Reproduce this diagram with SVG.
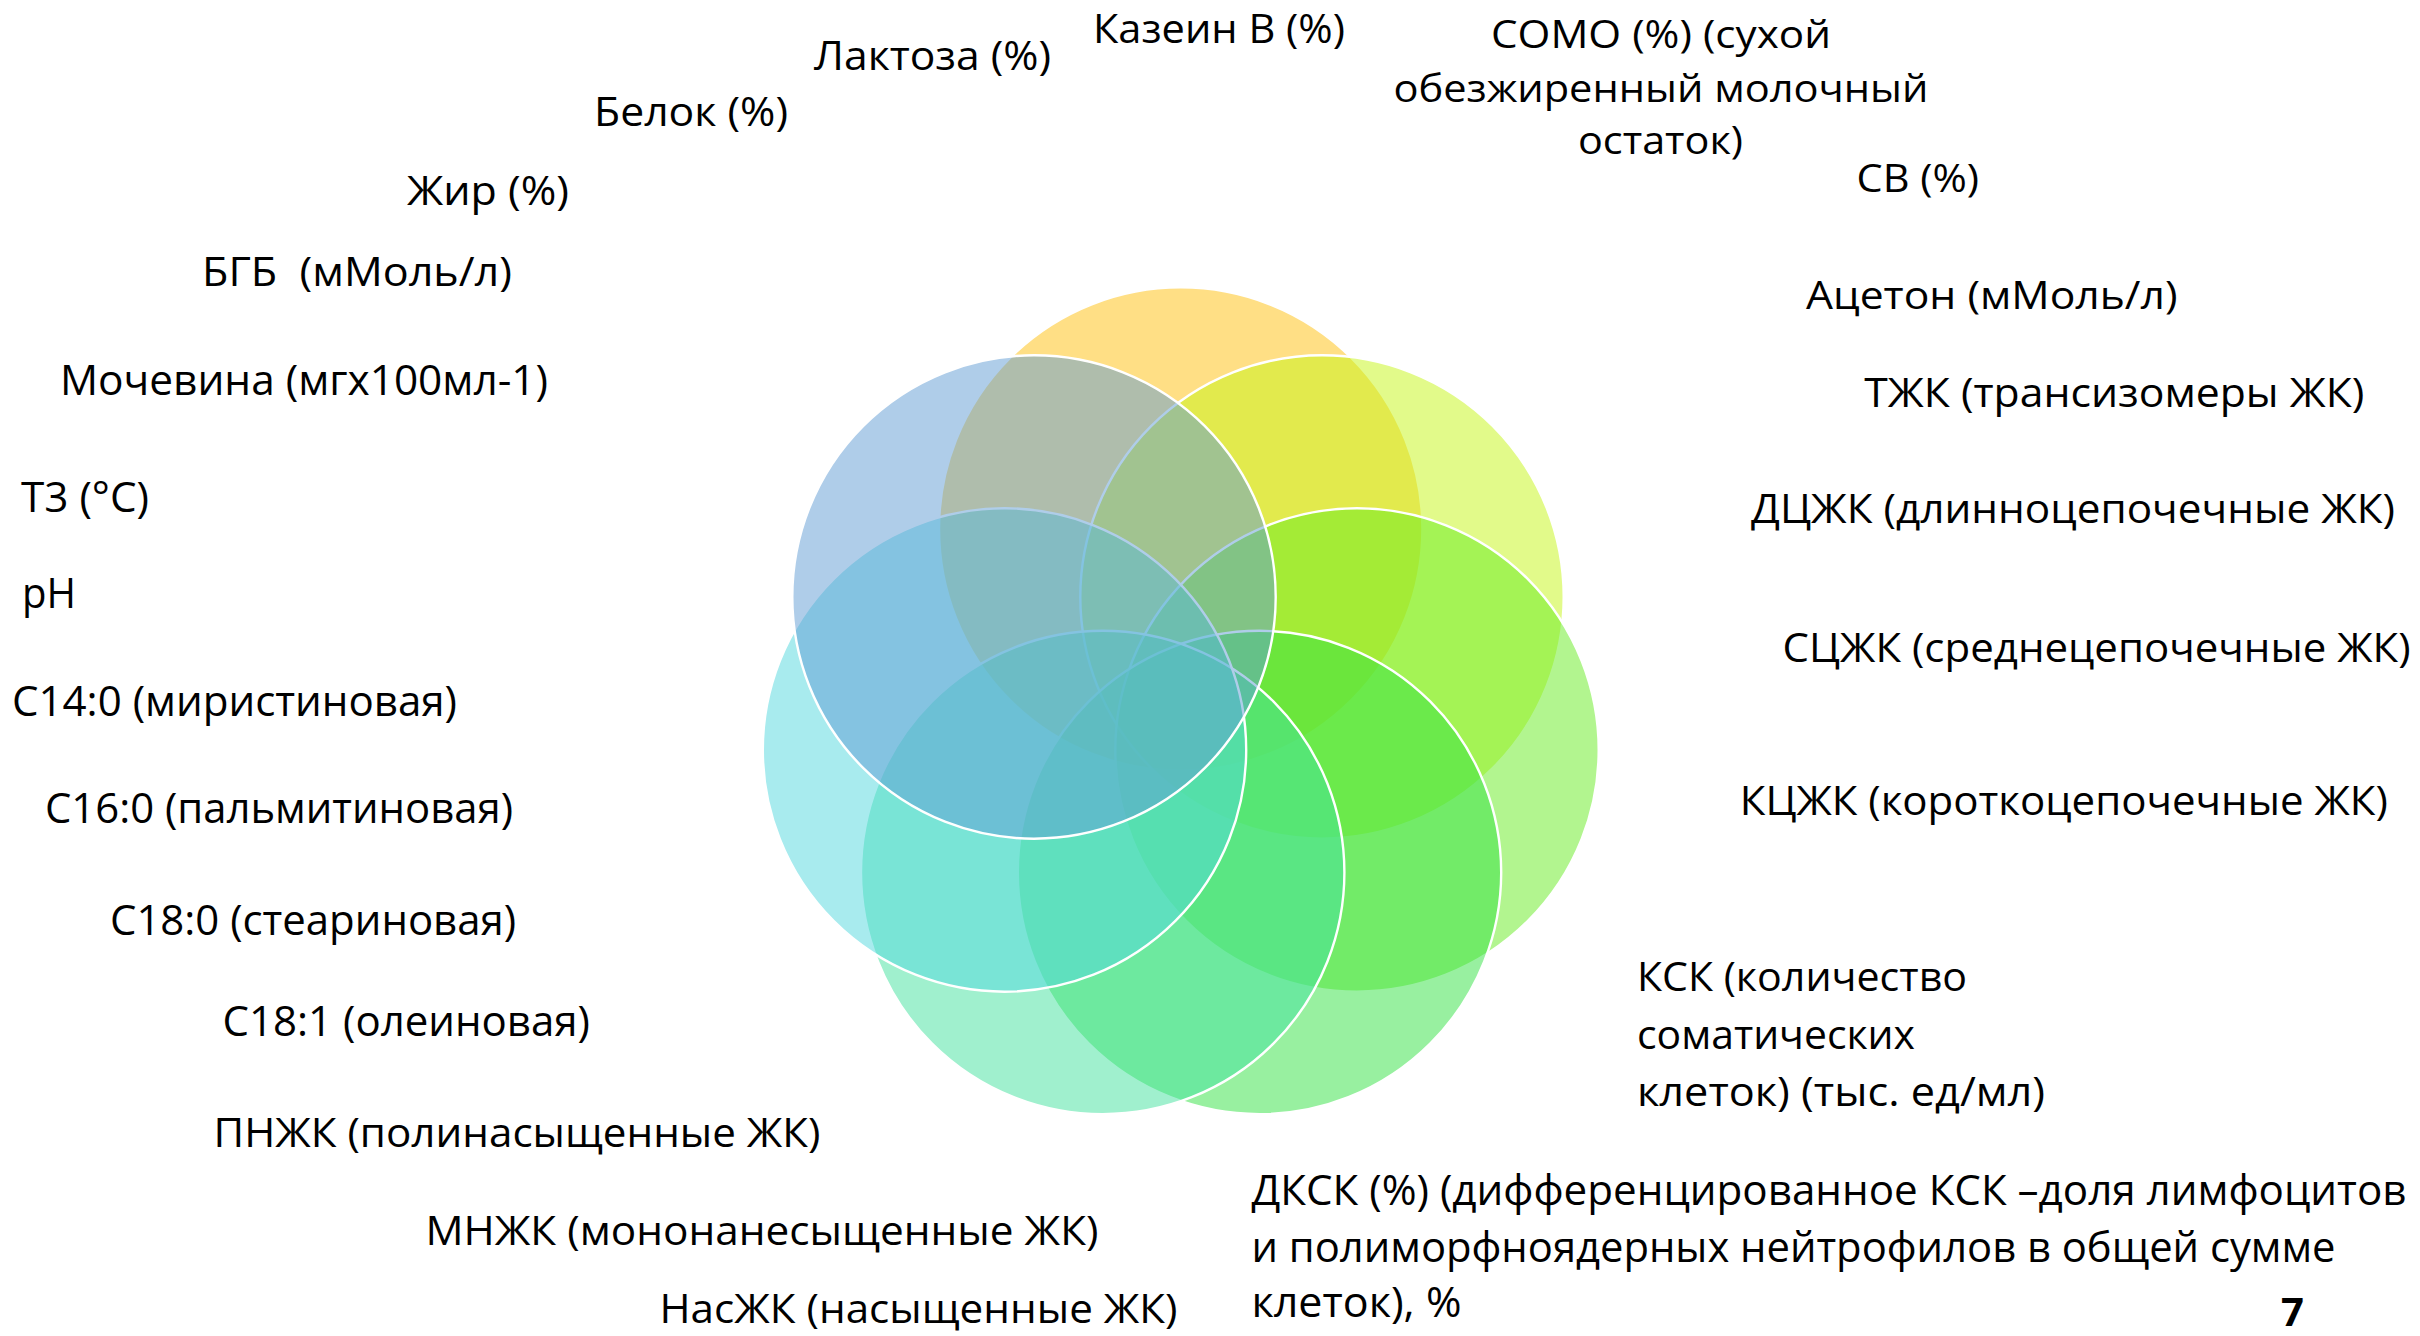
<svg xmlns="http://www.w3.org/2000/svg" width="2420" height="1336" viewBox="0 0 2420 1336">
<style>
.c{stroke:#FFFFFF;stroke-width:2.4;}
text{font-family:"Open Sans","Noto Sans","DejaVu Sans",sans-serif;fill:#000000;}
.t{font-size:41px;}
.l{font-size:42px;}
.s{font-size:38.5px;}
.b{font-size:40px;font-weight:bold;}
</style>
<rect x="0" y="0" width="2420" height="1336" fill="#FFFFFF"/>
<g id="venn">
<g id="circle-1"><circle class="c" cx="1180.7" cy="529" r="241.7" fill="rgb(255,191,11)" fill-opacity="0.5"/></g>
<g id="circle-2"><circle class="c" cx="1322" cy="597" r="241.7" fill="rgb(197,245,21)" fill-opacity="0.5"/></g>
<g id="circle-3"><circle class="c" cx="1357" cy="750" r="241.7" fill="rgb(101,235,31)" fill-opacity="0.5"/></g>
<g id="circle-4"><circle class="c" cx="1259.5" cy="872.5" r="241.7" fill="rgb(49,225,65)" fill-opacity="0.5"/></g>
<g id="circle-5"><circle class="c" cx="1102.7" cy="872.5" r="241.7" fill="rgb(65,225,157)" fill-opacity="0.5"/></g>
<g id="circle-6"><circle class="c" cx="1004.5" cy="750" r="241.7" fill="rgb(81,215,221)" fill-opacity="0.5"/></g>
<g id="circle-7"><circle class="c" cx="1034" cy="597" r="241.7" fill="rgb(95,155,211)" fill-opacity="0.5"/></g>
</g>
<g id="connectors"></g>
<g id="label-kazein"><text class="t" x="1093" y="43" textLength="252" lengthAdjust="spacingAndGlyphs">Казеин В (%)</text></g>
<g id="label-laktoza"><text class="t" x="814" y="70" textLength="237" lengthAdjust="spacingAndGlyphs">Лактоза (%)</text></g>
<g id="label-belok"><text class="t" x="594" y="125.5" textLength="194" lengthAdjust="spacingAndGlyphs">Белок (%)</text></g>
<g id="label-zhir"><text class="t" x="407" y="205" textLength="162" lengthAdjust="spacingAndGlyphs">Жир (%)</text></g>
<g id="label-bgb"><text class="t" x="202" y="285.5" textLength="310" lengthAdjust="spacingAndGlyphs" xml:space="preserve">БГБ  (мМоль/л)</text></g>
<g id="label-mochevina"><text class="l" x="60" y="395" textLength="488" lengthAdjust="spacingAndGlyphs">Мочевина (мгх100мл-1)</text></g>
<g id="label-t3"><text class="l" x="21" y="512" textLength="128" lengthAdjust="spacingAndGlyphs">Т3 (°C)</text></g>
<g id="label-ph"><text class="l" x="22" y="607.5" textLength="54" lengthAdjust="spacingAndGlyphs">pH</text></g>
<g id="label-c14"><text class="l" x="12" y="716" textLength="445" lengthAdjust="spacingAndGlyphs">С14:0 (миристиновая)</text></g>
<g id="label-c16"><text class="l" x="45" y="822.5" textLength="468" lengthAdjust="spacingAndGlyphs">С16:0 (пальмитиновая)</text></g>
<g id="label-c180"><text class="l" x="110" y="935" textLength="406" lengthAdjust="spacingAndGlyphs">С18:0 (стеариновая)</text></g>
<g id="label-c181"><text class="l" x="222.5" y="1035.5" textLength="367.5" lengthAdjust="spacingAndGlyphs">С18:1 (олеиновая)</text></g>
<g id="label-pnzhk"><text class="t" x="213.5" y="1146.5" textLength="607" lengthAdjust="spacingAndGlyphs">ПНЖК (полинасыщенные ЖК)</text></g>
<g id="label-mnzhk"><text class="t" x="425.5" y="1245" textLength="673" lengthAdjust="spacingAndGlyphs">МНЖК (мононанесыщенные ЖК)</text></g>
<g id="label-naszhk"><text class="t" x="659.5" y="1323.3" textLength="518" lengthAdjust="spacingAndGlyphs">НасЖК (насыщенные ЖК)</text></g>
<g id="label-somo">
<text class="s" x="1491" y="48.3" textLength="340" lengthAdjust="spacingAndGlyphs">СОМО (%) (сухой</text>
<text class="s" x="1393.5" y="101.8" textLength="535" lengthAdjust="spacingAndGlyphs">обезжиренный молочный</text>
<text class="s" x="1578" y="153.8" textLength="165" lengthAdjust="spacingAndGlyphs">остаток)</text>
</g>
<g id="label-sv"><text class="s" x="1856.5" y="192" textLength="122.5" lengthAdjust="spacingAndGlyphs">СВ (%)</text></g>
<g id="label-aceton"><text class="s" x="1806" y="309" textLength="371.5" lengthAdjust="spacingAndGlyphs">Ацетон (мМоль/л)</text></g>
<g id="label-tzhk"><text class="t" x="1864.3" y="407" textLength="500" lengthAdjust="spacingAndGlyphs">ТЖК (трансизомеры ЖК)</text></g>
<g id="label-dczhk"><text class="t" x="1751" y="523.3" textLength="644" lengthAdjust="spacingAndGlyphs">ДЦЖК (длинноцепочечные ЖК)</text></g>
<g id="label-sczhk"><text class="t" x="1782.6" y="661.6" textLength="628" lengthAdjust="spacingAndGlyphs">СЦЖК (среднецепочечные ЖК)</text></g>
<g id="label-kczhk"><text class="t" x="1739.8" y="815" textLength="648" lengthAdjust="spacingAndGlyphs">КЦЖК (короткоцепочечные ЖК)</text></g>
<g id="label-ksk">
<text class="t" x="1637" y="991" textLength="330" lengthAdjust="spacingAndGlyphs">КСК (количество</text>
<text class="t" x="1637" y="1048.5" textLength="278" lengthAdjust="spacingAndGlyphs">соматических</text>
<text class="t" x="1637" y="1106" textLength="408" lengthAdjust="spacingAndGlyphs">клеток) (тыс. ед/мл)</text>
</g>
<g id="label-dksk">
<text class="l" x="1251.5" y="1205" textLength="1155" lengthAdjust="spacingAndGlyphs">ДКСК (%) (дифференцированное КСК –доля лимфоцитов</text>
<text class="l" x="1251.5" y="1261.5" textLength="1084" lengthAdjust="spacingAndGlyphs">и полиморфноядерных нейтрофилов в общей сумме</text>
<text class="l" x="1251.5" y="1317" textLength="210" lengthAdjust="spacingAndGlyphs">клеток), %</text>
</g>
<g id="page-number"><text class="b" x="2281" y="1326">7</text></g>
</svg>
